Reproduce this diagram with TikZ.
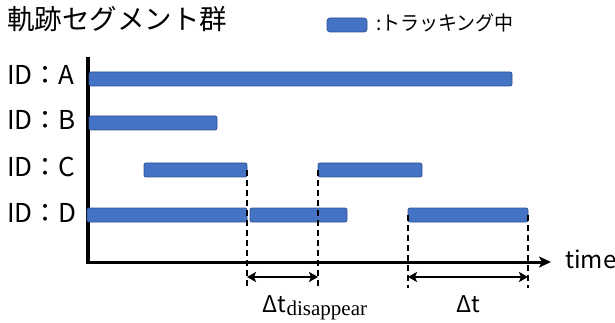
\documentclass[tikz,border=0pt]{standalone}
\usepackage{fontspec}
\newfontfamily\jp{Noto Sans CJK JP}
\newfontfamily\serifx{Liberation Serif}
\usetikzlibrary{arrows.meta}
\definecolor{barfill}{HTML}{4472C4}
\definecolor{barline}{HTML}{2F528F}
\begin{document}
\begin{tikzpicture}[x=1pt,y=-1pt,
  seg/.style={draw=barline, fill=barfill, rounded corners=2pt, line width=0.7pt,
    inner sep=0pt, outer sep=0pt, anchor=west, minimum height=14pt},
  idlab/.style={anchor=base west, inner sep=0pt, font=\jp\fontsize{26}{26}\selectfont},
  guide/.style={line width=2.3pt, dash pattern=on 6pt off 4pt},
  span/.style={line width=2.7pt, {Stealth[length=9pt,width=10pt,inset=2pt]}-{Stealth[length=9pt,width=10pt,inset=2pt]}},
  axisline/.style={line width=3pt}
]
\useasboundingbox (0,0) rectangle (615,323);

% title and legend
\node[anchor=base west, inner sep=0pt, font=\jp\fontsize{27.5}{27.5}\selectfont] (title) at (7,30) {軌跡セグメント群};
\node[seg, minimum width=40pt, minimum height=14pt, rounded corners=3pt] (leg) at (327,25) {};
\node[anchor=base west, inner sep=0pt, font=\jp\fontsize{20}{20}\selectfont] (legtxt) at (376,31) {\scalebox{0.95}[1]{:トラッキング中}};

% ID labels
\node[idlab] (la) at (7,85) {ID：A};
\node[idlab] (lb) at (7,130) {ID：B};
\node[idlab] (lc) at (7,176) {ID：C};
\node[idlab] (ld) at (7,222) {ID：D};

% axes
\coordinate (origin) at (88,262);
\coordinate (ytop) at (88,57);
\coordinate (ybot) at (88,263.5);
\coordinate (xend) at (551,262);
\draw[axisline, line width=3.3pt] (ytop) -- (ybot);
\draw[axisline, -{Stealth[length=12pt,width=11pt,inset=3pt]}] (origin) -- (xend);
\node[anchor=base west, inner sep=0pt, font=\jp\fontsize{24}{24}\selectfont] (time) at (565,268) {time};

% segments
\node[seg, minimum width=423pt] (A) at (89,79) {};
\node[seg, minimum width=128pt] (B) at (89,123) {};
\node[seg, minimum width=103pt] (C1) at (144,170) {};
\node[seg, minimum width=104pt] (C2) at (318,170) {};
\node[seg, minimum width=160pt] (D1) at (87,215) {};
\node[seg, minimum width=97pt] (D2) at (250,215) {};
\node[seg, minimum width=120pt] (D3) at (408,215) {};

% guides
\coordinate (low) at (0,288);
\coordinate (arr) at (0,277);
\draw[guide] (C1.east) -- (C1.east |- low);
\draw[guide] (C2.west) -- (C2.west |- low);
\draw[guide] (D3.west) -- (D3.west |- low);
\draw[guide] (D3.east) -- (D3.east |- low);

% spans
\draw[span] (C1.east |- arr) -- (C2.west |- arr);
\draw[span] (D3.west |- arr) -- (D3.east |- arr);

% span labels
\node[anchor=base, inner sep=0pt] (dlab) at (315,312)
  {{\jp\fontsize{23}{23}\selectfont Δt}\raisebox{-3pt}{\serifx\fontsize{21}{21}\selectfont disappear}};
\node[anchor=base, inner sep=0pt, font=\jp\fontsize{23}{23}\selectfont] (tlab) at (468.5,312) {Δt};
\end{tikzpicture}
\end{document}
